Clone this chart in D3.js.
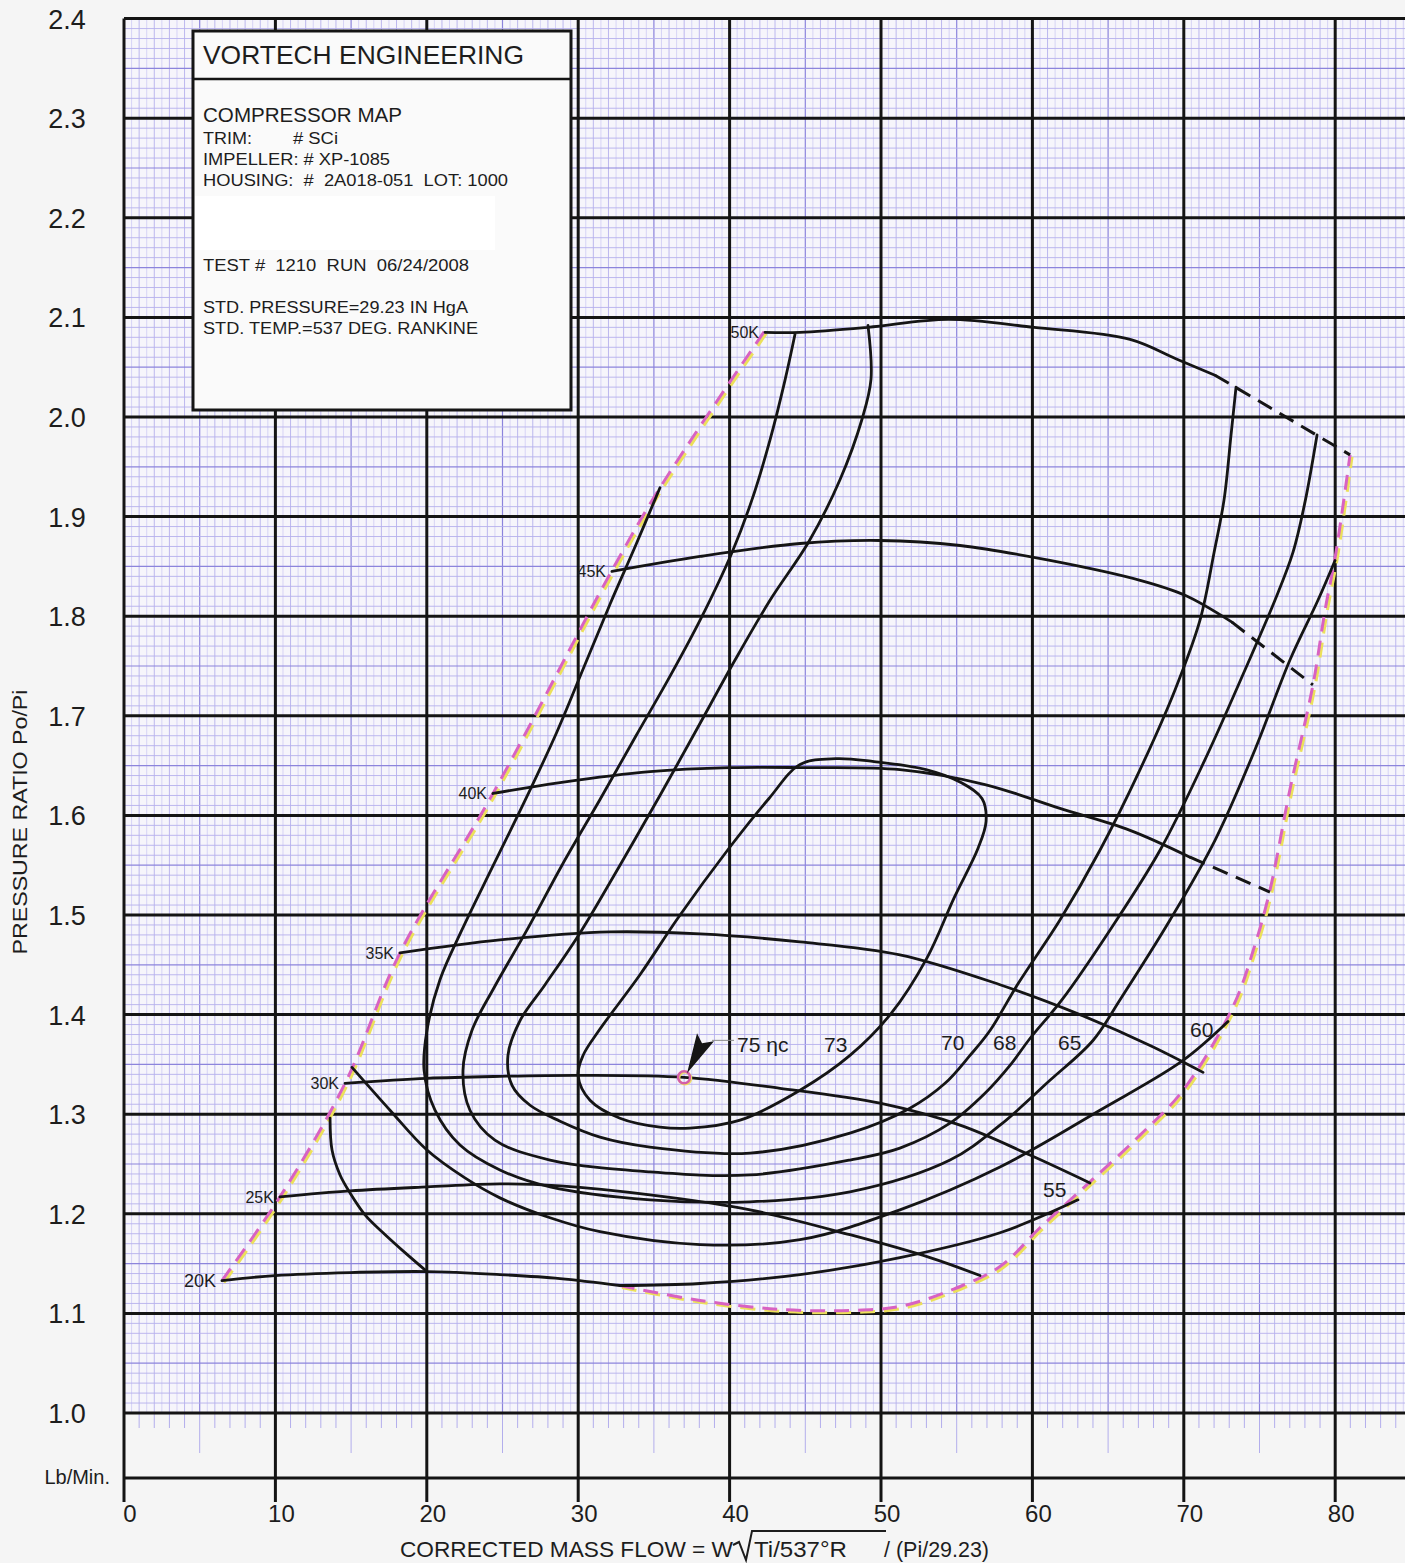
<!DOCTYPE html>
<html>
<head>
<meta charset="utf-8">
<script src="https://cdn.jsdelivr.net/npm/d3@7"></script>
<style>
  body { margin: 0; background: #f5f5f5; }
  svg text { font-family: "Liberation Sans", Arial, sans-serif; fill: #1d1d1d; white-space: pre; }
</style>
</head>
<body>
<svg id="chart" width="1405" height="1563"></svg>
<script>
// ---- tick values
const xTicks = [0, 10, 20, 30, 40, 50, 60, 70, 80];
const yTicks = [1.0, 1.1, 1.2, 1.3, 1.4, 1.5, 1.6, 1.7, 1.8, 1.9, 2.0, 2.1, 2.2, 2.3, 2.4];

// ---- speed lines [mass flow, pressure ratio]
const speedNames = ["20K", "25K", "30K", "35K", "40K", "45K", "50K"];
const speed20 = [[6.47,1.133],[9.97,1.138],[14.93,1.141],[20.01,1.142],[24.83,1.139],[28.80,1.135],[32.76,1.128]];
const speed25 = [[10.30,1.217],[14.93,1.223],[20.01,1.227],[24.83,1.230],[28.80,1.228],[34.74,1.219],[41.35,1.204],[47.95,1.179],[53.24,1.156],[56.54,1.138]];
const speed30 = [[14.60,1.331],[20.01,1.336],[24.83,1.338],[30.12,1.339],[36.99,1.337],[43.33,1.326],[49.93,1.311],[55.22,1.289],[59.84,1.259],[63.80,1.231]];
const speed35 = [[18.23,1.462],[24.83,1.475],[32.10,1.483],[38.05,1.481],[44.65,1.473],[51.25,1.460],[57.86,1.430],[63.14,1.400],[67.77,1.369],[71.27,1.342]];
const speed40 = [[24.37,1.622],[28.80,1.633],[34.74,1.644],[40.03,1.648],[44.65,1.648],[51.25,1.646],[56.87,1.631],[61.82,1.607],[66.45,1.585],[70.41,1.558]];
const speed45 = [[32.23,1.845],[38.05,1.860],[44.65,1.873],[49.93,1.876],[55.22,1.871],[61.16,1.856],[67.11,1.836],[70.08,1.821],[73.18,1.794]];
const speed50 = [[42.34,2.085],[44.65,2.085],[49.14,2.090],[54.43,2.098],[60.11,2.090],[66.45,2.078],[69.55,2.058],[72.06,2.042]];
// dashed extrapolations of the top speeds
const dash40 = [[70.41,1.558],[75.69,1.523]];
const dash45 = [[73.18,1.794],[78.53,1.731]];
const dash50 = [[72.06,2.042],[80.98,1.962]];

// ---- efficiency contours
const eff73 = [[29.99,1.339],[30.78,1.314],[32.76,1.296],[35.40,1.287],[37.38,1.286],[40.69,1.294],[44.65,1.324],[47.95,1.359],[50.66,1.401],[53.04,1.457],[54.82,1.517],[56.41,1.567],[56.94,1.594],[56.67,1.617],[55.28,1.633],[52.97,1.646],[49.54,1.654],[47.03,1.657],[44.65,1.651],[42.60,1.617],[39.96,1.567],[36.59,1.497],[34.08,1.440],[31.37,1.384],[30.32,1.359]];
const eff70 = [[49.14,2.092],[49.34,2.038],[48.75,1.998],[47.29,1.937],[45.24,1.875],[42.67,1.816],[40.36,1.756],[37.78,1.685],[35.40,1.620],[32.76,1.550],[30.12,1.482],[27.81,1.430],[26.16,1.394],[25.36,1.359],[25.63,1.329],[26.82,1.309],[28.80,1.293],[31.44,1.277],[34.74,1.267],[41.35,1.261],[47.95,1.281],[51.91,1.306],[54.23,1.331],[55.88,1.359],[57.20,1.384],[59.05,1.431],[61.82,1.495],[64.46,1.565],[67.11,1.646],[69.42,1.726],[71.07,1.796],[72.00,1.864],[72.66,1.917],[73.12,1.982],[73.45,2.030]];
const eff68 = [[44.32,2.083],[43.66,2.037],[42.67,1.977],[41.48,1.917],[40.16,1.864],[38.05,1.796],[35.93,1.736],[33.82,1.680],[31.44,1.616],[28.93,1.550],[26.62,1.485],[24.44,1.427],[22.98,1.384],[22.39,1.344],[22.85,1.304],[24.50,1.274],[28.14,1.254],[34.74,1.242],[41.35,1.239],[47.95,1.254],[51.25,1.266],[54.56,1.291],[56.87,1.321],[58.52,1.349],[59.84,1.376],[61.96,1.415],[65.13,1.485],[68.43,1.565],[71.40,1.656],[74.04,1.746],[76.02,1.816],[77.21,1.864],[78.01,1.915],[78.80,1.982]];
const eff65 = [[35.40,1.929],[33.82,1.872],[32.10,1.812],[30.38,1.749],[28.60,1.684],[26.49,1.615],[24.30,1.547],[22.32,1.485],[20.87,1.435],[20.01,1.384],[19.82,1.344],[20.54,1.304],[22.19,1.269],[24.83,1.244],[28.14,1.227],[34.74,1.214],[41.35,1.212],[47.95,1.222],[54.56,1.254],[57.86,1.289],[61.16,1.334],[64.00,1.374],[65.79,1.415],[69.09,1.495],[72.06,1.575],[74.70,1.666],[77.01,1.756],[78.86,1.816],[79.99,1.856]];
const eff60 = [[15.06,1.347],[17.57,1.304],[20.01,1.264],[22.52,1.236],[24.83,1.216],[28.14,1.196],[31.44,1.182],[38.05,1.169],[44.65,1.174],[51.25,1.204],[57.86,1.247],[64.46,1.304],[69.95,1.354],[72.92,1.393]];
const eff55a = [[13.61,1.296],[13.74,1.264],[14.27,1.239],[14.93,1.221],[15.92,1.199],[17.11,1.181],[18.56,1.161],[20.01,1.142]];
const eff55b = [[32.76,1.128],[38.05,1.130],[44.65,1.139],[51.25,1.156],[57.86,1.181],[63.01,1.214]];

// ---- surge and choke limits
const surge = [[6.47,1.133],[10.30,1.217],[14.60,1.331],[18.23,1.462],[24.37,1.622],[32.23,1.846],[35.40,1.929],[42.34,2.087]];
const choke = [[32.76,1.128],[38.05,1.113],[43.33,1.104],[47.95,1.103],[51.25,1.107],[54.56,1.123],[57.86,1.147],[60.50,1.186],[63.80,1.232],[67.11,1.279],[69.95,1.324],[73.25,1.408],[74.70,1.470],[75.69,1.525],[77.01,1.626],[78.53,1.731],[79.33,1.806],[80.05,1.864],[80.98,1.962]];

// ---- labels
const effLabels = [
  { text: "75 \u03b7c", x: 40.49, y: 1.362 },
  { text: "73", x: 46.24, y: 1.362 },
  { text: "70", x: 53.96, y: 1.364 },
  { text: "68", x: 57.40, y: 1.364 },
  { text: "65", x: 61.69, y: 1.364 },
  { text: "60", x: 70.41, y: 1.378 },
  { text: "55", x: 60.70, y: 1.217 }
];
const peak = [36.99, 1.337];

const infoLines = [
  { text: "COMPRESSOR MAP", x: 203, y: 122, size: 20, w: 199 },
  { text: "TRIM:", x: 203, y: 144, size: 16, w: 49 },
  { text: "# SCi", x: 293, y: 144, size: 16, w: 45 },
  { text: "IMPELLER: # XP-1085", x: 203, y: 165, size: 16, w: 187 },
  { text: "HOUSING:  #  2A018-051  LOT: 1000", x: 203, y: 186, size: 16, w: 305 },
  { text: "TEST #  1210  RUN  06/24/2008", x: 203, y: 271, size: 16, w: 266 },
  { text: "STD. PRESSURE=29.23 IN HgA", x: 203, y: 313, size: 16, w: 265 },
  { text: "STD. TEMP.=537 DEG. RANKINE", x: 203, y: 334, size: 16, w: 275 }
];

// ---- layout
const W = 1405, H = 1563;
const x = d3.scaleLinear().domain([0, 80]).range([124, 1335.2]);
const y = d3.scaleLinear().domain([1.0, 2.4]).range([1413, 18.6]);
const xMax = x.invert(W);
const stripY = 1478, majorBottom = 1502;

const svg = d3.select("#chart");

svg.append("rect").attr("width", W).attr("height", H).attr("fill", "#f5f5f5");

// Graph paper background
svg.append("rect")
  .attr("x", x(0)).attr("y", y(2.4))
  .attr("width", W - x(0)).attr("height", y(1.0) - y(2.4))
  .attr("fill", "#f6f5fb");

const grid = svg.append("g");

// minor vertical lines every 0.5
d3.range(0, Math.floor(xMax * 2) + 1).forEach(i => {
  const v = i / 2;
  if (i % 20 === 0) return;
  const mid = i % 10 === 0;
  grid.append("line")
    .attr("x1", x(v)).attr("x2", x(v))
    .attr("y1", y(2.4)).attr("y2", y(1.0))
    .attr("stroke", mid ? "#8c84dc" : (i % 2 === 0 ? "#b5b0ec" : "#d2cff5"))
    .attr("stroke-width", mid ? 1.2 : 0.9);
});

// minor horizontal lines every 0.01
d3.range(100, 241).forEach(i => {
  if (i % 10 === 0) return;
  const v = i / 100;
  const mid = i % 5 === 0;
  grid.append("line")
    .attr("x1", x(0)).attr("x2", W)
    .attr("y1", y(v)).attr("y2", y(v))
    .attr("stroke", mid ? "#8c84dc" : "#b5b0ec")
    .attr("stroke-width", mid ? 1.2 : 0.9);
});

// tick marks hanging in the bottom strip
d3.range(0, Math.floor(xMax) + 1).forEach(v => {
  if (v % 10 === 0) return;
  grid.append("line")
    .attr("x1", x(v)).attr("x2", x(v))
    .attr("y1", y(1.0)).attr("y2", y(1.0) + (v % 5 === 0 ? 40 : 15))
    .attr("stroke", "#b3aeec").attr("stroke-width", 1);
});

// major lines
const major = svg.append("g").attr("stroke", "#141414").attr("stroke-width", 3);
yTicks.forEach(v => {
  major.append("line").attr("x1", x(0)).attr("x2", W).attr("y1", y(v)).attr("y2", y(v));
});
major.append("line").attr("x1", x(0)).attr("x2", W).attr("y1", stripY).attr("y2", stripY);
xTicks.forEach(v => {
  major.append("line").attr("x1", x(v)).attr("x2", x(v)).attr("y1", y(2.4)).attr("y2", majorBottom);
});

// tick labels
svg.append("g").selectAll("text").data(yTicks).join("text")
  .attr("x", 67).attr("y", d => y(d) + 10)
  .attr("text-anchor", "middle").attr("font-size", 27)
  .text(d => d.toFixed(1));

svg.append("g").selectAll("text").data(xTicks).join("text")
  .attr("x", d => x(d) + 6).attr("y", 1522)
  .attr("text-anchor", "middle").attr("font-size", 24)
  .text(d => d);

svg.append("text").attr("x", 110).attr("y", 1484)
  .attr("text-anchor", "end").attr("font-size", 20).text("Lb/Min.");

// axis titles
svg.append("text")
  .attr("transform", "translate(27,822) rotate(-90)")
  .attr("text-anchor", "middle").attr("font-size", 21)
  .attr("textLength", 265).attr("lengthAdjust", "spacingAndGlyphs")
  .text("PRESSURE RATIO Po/Pi");

svg.append("text").attr("x", 400).attr("y", 1557).attr("font-size", 22)
  .attr("textLength", 333).attr("lengthAdjust", "spacingAndGlyphs")
  .text("CORRECTED MASS FLOW = W");
svg.append("path")
  .attr("d", "M733,1545 L739,1542 L746,1560 L752,1531 L886,1531")
  .attr("fill", "none").attr("stroke", "#1d1d1d").attr("stroke-width", 2);
svg.append("text").attr("x", 754).attr("y", 1557).attr("font-size", 22)
  .attr("textLength", 93).attr("lengthAdjust", "spacingAndGlyphs")
  .text("Ti/537\u00b0R");
svg.append("text").attr("x", 884).attr("y", 1557).attr("font-size", 22)
  .attr("textLength", 105).attr("lengthAdjust", "spacingAndGlyphs")
  .text("/ (Pi/29.23)");

// ---- map curves
const line = d3.line().x(d => x(d[0])).y(d => y(d[1])).curve(d3.curveCatmullRom.alpha(0.5));
const loop = d3.line().x(d => x(d[0])).y(d => y(d[1])).curve(d3.curveCatmullRomClosed.alpha(0.5));

const plot = svg.append("g").attr("fill", "none").attr("stroke-linecap", "round").attr("stroke-linejoin", "round");

// surge / choke: yellow shadow then pink dashes
[surge, choke].forEach(pts => {
  plot.append("path").attr("d", line(pts))
    .attr("transform", "translate(2,2)")
    .attr("stroke", "#ece05a").attr("stroke-width", 3).attr("stroke-dasharray", "15,9").attr("stroke-linecap", "butt");
  plot.append("path").attr("d", line(pts))
    .attr("stroke", "#d862c2").attr("stroke-width", 3).attr("stroke-dasharray", "15,9").attr("stroke-linecap", "butt");
});

const solid = [speed20, speed25, speed30, speed35, speed40, speed45, speed50,
  eff70, eff68, eff65, eff60, eff55a, eff55b];
solid.forEach(pts => {
  plot.append("path").attr("d", line(pts))
    .attr("stroke", "#151515").attr("stroke-width", 2.8);
});
plot.append("path").attr("d", loop(eff73))
  .attr("stroke", "#151515").attr("stroke-width", 2.8);

[dash40, dash45, dash50].forEach(pts => {
  plot.append("path").attr("d", line(pts))
    .attr("stroke", "#151515").attr("stroke-width", 3)
    .attr("stroke-dasharray", "16,9").attr("stroke-linecap", "butt");
});

// speed labels at the start of each speed line
const speedStarts = [speed20, speed25, speed30, speed35, speed40, speed45, speed50].map(s => s[0]);
svg.append("g").selectAll("text").data(speedNames).join("text")
  .attr("x", (d, i) => x(speedStarts[i][0]) - 6)
  .attr("y", (d, i) => y(speedStarts[i][1]) + 6)
  .attr("text-anchor", "end")
  .attr("font-size", (d, i) => i === 0 ? 18 : 16)
  .text(d => d);

// efficiency labels
svg.append("g").selectAll("text").data(effLabels).join("text")
  .attr("x", d => x(d.x)).attr("y", d => y(d.y))
  .attr("font-size", 21)
  .text(d => d.text);

// peak efficiency marker with arrow
const px = x(peak[0]), py = y(peak[1]);
svg.append("circle").attr("cx", px + 1).attr("cy", py + 1).attr("r", 6)
  .attr("fill", "none").attr("stroke", "#efe060").attr("stroke-width", 2.5);
svg.append("circle").attr("cx", px).attr("cy", py).attr("r", 6)
  .attr("fill", "none").attr("stroke", "#d45fa8").attr("stroke-width", 2.5);
svg.append("path")
  .attr("d", `M${px + 3},${py - 4} L${px + 13},${py - 44} L${px + 18},${py - 34} L${px + 30},${py - 36} Z`)
  .attr("fill", "#151515");
svg.append("line")
  .attr("x1", px + 28).attr("x2", px + 50).attr("y1", py - 37).attr("y2", py - 37)
  .attr("stroke", "#888").attr("stroke-width", 1);

// ---- information box
const box = svg.append("g");
box.append("rect").attr("x", 193).attr("y", 31).attr("width", 378).attr("height", 379)
  .attr("fill", "#fafafa").attr("stroke", "#151515").attr("stroke-width", 3);
box.append("rect").attr("x", 195).attr("y", 196).attr("width", 300).attr("height", 54).attr("fill", "#ffffff");
box.append("line").attr("x1", 193).attr("x2", 571).attr("y1", 79).attr("y2", 79)
  .attr("stroke", "#151515").attr("stroke-width", 2.5);
box.append("text").attr("x", 203).attr("y", 64).attr("font-size", 26)
  .attr("textLength", 321).attr("lengthAdjust", "spacingAndGlyphs")
  .text("VORTECH ENGINEERING");
box.selectAll("text.info").data(infoLines).join("text")
  .attr("class", "info")
  .attr("x", d => d.x).attr("y", d => d.y).attr("font-size", d => d.size)
  .attr("textLength", d => d.w).attr("lengthAdjust", "spacingAndGlyphs")
  .text(d => d.text);
</script>
</body>
</html>
